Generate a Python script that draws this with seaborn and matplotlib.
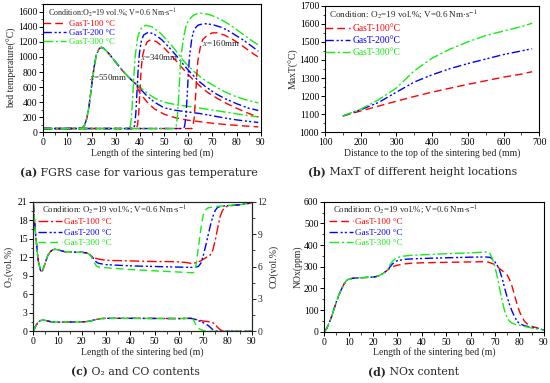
import matplotlib
matplotlib.use("Agg")
import matplotlib.pyplot as plt
import seaborn as sns
from matplotlib.ticker import MultipleLocator, AutoMinorLocator
from matplotlib.lines import Line2D

# ---------------- data ----------------
# (a) bed temperature along the strand at three depths, three gas temperatures
red550_x = [0, 10, 15, 16, 17, 18, 19, 20, 21, 22, 23, 24, 25, 27, 30, 33, 36, 38, 40, 43, 46, 50, 55, 60, 65, 70, 75, 80, 85, 89]
red550_y = [50, 50, 52, 60, 90, 180, 360, 620, 860, 1030, 1105, 1128, 1115, 1050, 930, 810, 710, 650, 520, 400, 310, 240, 190, 160, 140, 120, 105, 92, 80, 72]
blue550_x = red550_x
blue550_y = [50, 50, 52, 60, 90, 180, 360, 620, 860, 1030, 1105, 1128, 1115, 1050, 930, 810, 710, 650, 580, 480, 400, 325, 290, 270, 248, 220, 190, 165, 145, 130]
green550_x = red550_x
green550_y = [50, 50, 52, 60, 90, 180, 360, 620, 860, 1030, 1105, 1128, 1115, 1050, 930, 810, 710, 660, 600, 520, 455, 400, 365, 345, 320, 295, 270, 245, 220, 205]

red340_x = [0, 38.5, 39, 39.5, 40, 40.5, 41, 42, 43, 44.5, 47, 50, 53, 56, 59, 62, 65, 68, 72, 76, 80, 85, 89]
red340_y = [50, 50, 90, 250, 550, 820, 1000, 1130, 1200, 1230, 1200, 1120, 1020, 910, 800, 700, 610, 530, 450, 380, 320, 250, 205]
blue340_x = [0, 37.3, 37.8, 38.3, 38.8, 39.3, 39.8, 40.5, 41.5, 43.5, 46, 49, 52, 55, 58, 61, 64, 67, 71, 75, 80, 85, 89]
blue340_y = [50, 50, 90, 250, 550, 850, 1050, 1200, 1290, 1330, 1300, 1230, 1130, 1020, 900, 790, 690, 610, 520, 450, 380, 320, 290]
green340_x = [0, 35.5, 36, 36.5, 37, 37.5, 38, 39, 40, 41, 42.5, 45, 48, 51, 54, 57, 60, 63, 66, 70, 75, 80, 85, 89]
green340_y = [50, 50, 80, 200, 450, 750, 1000, 1250, 1350, 1400, 1420, 1400, 1330, 1230, 1120, 990, 880, 790, 710, 630, 540, 470, 420, 390]

red160_x = [0, 61.5, 62, 62.5, 63, 63.5, 64, 65, 66, 68, 70, 72, 75, 78, 81, 84, 87, 89]
red160_y = [50, 50, 80, 200, 450, 750, 950, 1130, 1230, 1290, 1320, 1320, 1290, 1240, 1180, 1110, 1040, 1000]
blue160_x = [0, 58, 58.5, 59, 59.5, 60, 60.5, 61.5, 62.5, 64, 66, 68, 71, 74, 77, 80, 83, 86, 89]
blue160_y = [50, 50, 80, 200, 450, 750, 1000, 1250, 1370, 1420, 1440, 1440, 1420, 1390, 1340, 1280, 1220, 1150, 1075]
green160_x = [0, 54.5, 55, 55.5, 56, 56.5, 57, 58, 59, 60, 62, 64, 66, 69, 72, 75, 78, 81, 84, 87, 89]
green160_y = [50, 50, 80, 200, 450, 750, 1000, 1250, 1400, 1480, 1550, 1578, 1580, 1560, 1520, 1470, 1410, 1340, 1270, 1200, 1160]

# (b) maximum temperature vs depth
depth_mm = [150, 200, 250, 300, 350, 400, 450, 500, 550, 600, 650, 680]
maxT_100 = [1090, 1118, 1145, 1172, 1198, 1222, 1244, 1265, 1285, 1305, 1322, 1335]
maxT_200 = [1090, 1125, 1165, 1222, 1278, 1318, 1352, 1380, 1405, 1430, 1450, 1462]
maxT_300 = [1090, 1128, 1180, 1245, 1340, 1410, 1460, 1500, 1535, 1560, 1585, 1603]

# (c) O2 (left axis) and CO (right axis)
o2_red_x = [0, 0.5, 1, 2, 3, 3.5, 4, 5, 6, 7, 8, 9, 11, 13, 15, 18, 20, 22, 23, 24, 25, 27, 30, 35, 40, 45, 50, 55, 60, 63, 65, 67, 69, 71, 72, 73, 74, 75, 76, 77, 78, 79, 80, 85, 90]
o2_red_y = [20.8, 18, 15.5, 11.5, 9.8, 9.7, 10, 11.2, 12.3, 12.9, 13.2, 13.3, 13.1, 12.9, 12.9, 12.8, 12.8, 12.7, 12.5, 12.2, 11.9, 11.7, 11.5, 11.45, 11.4, 11.35, 11.3, 11.3, 11.25, 11.15, 11.0, 11.1, 11.4, 11.9, 12.1, 12.4, 13.2, 14.8, 16.8, 18.6, 19.6, 20.1, 20.3, 20.5, 20.8]
o2_blue_x = [0, 0.5, 1, 2, 3, 3.5, 4, 5, 6, 7, 8, 9, 11, 13, 15, 18, 20, 22, 23, 24, 25, 26, 27, 30, 40, 50, 60, 66, 68, 69, 70, 71, 72, 73, 74, 75, 76, 78, 85, 90]
o2_blue_y = [20.8, 18, 15.5, 11.5, 9.8, 9.7, 10, 11.2, 12.3, 12.9, 13.2, 13.3, 13.1, 12.9, 12.9, 12.8, 12.8, 12.7, 12.5, 12.2, 11.7, 11.2, 11.0, 10.8, 10.6, 10.5, 10.4, 10.35, 10.5, 11.0, 12.2, 13.8, 15.5, 17.2, 18.6, 19.6, 20.1, 20.3, 20.5, 20.8]
o2_green_x = [0, 0.5, 1, 2, 3, 3.5, 4, 5, 6, 7, 8, 9, 11, 13, 15, 18, 20, 22, 23, 24, 25, 26, 27, 30, 40, 50, 60, 65, 66, 67, 68, 69, 70, 71, 72, 75, 80, 85, 90]
o2_green_y = [20.8, 18, 15.5, 11.5, 9.8, 9.7, 10, 11.2, 12.3, 12.9, 13.2, 13.3, 13.1, 12.9, 12.9, 12.8, 12.8, 12.7, 12.5, 12.0, 11.2, 10.6, 10.4, 10.3, 10.0, 9.8, 9.6, 9.5, 9.5, 10.5, 13.5, 16.5, 18.8, 19.7, 20.0, 20.2, 20.4, 20.5, 20.8]

co_red_x = [0, 1, 2, 3, 4, 5, 7, 9, 12, 15, 18, 20, 22, 24, 26, 28, 30, 40, 50, 60, 65, 66, 68, 70, 72, 74, 75, 76, 77, 78, 80, 90]
co_red_y = [0, 0.5, 0.85, 1.0, 1.05, 1.0, 0.9, 0.85, 0.85, 0.86, 0.86, 0.87, 0.9, 0.98, 1.1, 1.18, 1.2, 1.2, 1.19, 1.18, 1.2, 1.15, 1.05, 0.95, 0.9, 0.8, 0.6, 0.35, 0.15, 0.05, 0.0, 0.0]
co_blue_x = [0, 1, 2, 3, 4, 5, 7, 9, 12, 15, 18, 20, 22, 24, 26, 28, 30, 40, 50, 60, 65, 66, 68, 70, 72, 73, 74, 75, 76, 90]
co_blue_y = [0, 0.5, 0.85, 1.0, 1.05, 1.0, 0.9, 0.85, 0.85, 0.86, 0.86, 0.87, 0.9, 0.98, 1.1, 1.18, 1.2, 1.2, 1.19, 1.18, 1.2, 1.15, 1.0, 0.8, 0.55, 0.35, 0.15, 0.05, 0.0, 0.0]
co_green_x = [0, 1, 2, 3, 4, 5, 7, 9, 12, 15, 18, 20, 22, 24, 26, 28, 30, 40, 50, 60, 65, 66, 67, 68, 69, 70, 72, 74, 90]
co_green_y = [0, 0.5, 0.85, 1.0, 1.05, 1.0, 0.9, 0.85, 0.85, 0.86, 0.86, 0.87, 0.9, 0.98, 1.1, 1.18, 1.2, 1.2, 1.19, 1.18, 1.2, 1.05, 0.6, 0.3, 0.15, 0.08, 0.02, 0.0, 0.0]

# (d) NOx
nox_red_x = [0, 1, 2, 3, 4, 5, 6, 7, 8, 9, 10, 12, 15, 18, 20, 22, 23, 24, 25, 26, 27, 28, 30, 33, 36, 40, 45, 50, 55, 60, 65, 67, 68, 70, 71, 72, 73, 74, 75, 76, 77, 78, 79, 80, 81, 82, 83, 84, 85, 86, 88, 90]
nox_red_y = [0, 15, 40, 70, 105, 140, 170, 195, 218, 235, 243, 247, 249, 251, 252, 256, 262, 268, 276, 285, 293, 300, 307, 313, 316, 318, 319, 320, 321, 322, 323, 322, 318, 310, 300, 290, 282, 272, 262, 240, 210, 170, 130, 95, 70, 50, 38, 30, 25, 22, 15, 8]
nox_blue_x = [0, 1, 2, 3, 4, 5, 6, 7, 8, 9, 10, 12, 15, 18, 20, 22, 23, 24, 25, 26, 27, 28, 29, 30, 33, 36, 40, 50, 60, 66, 68, 69, 70, 71, 72, 73, 74, 75, 76, 77, 78, 79, 80, 82, 85, 88, 90]
nox_blue_y = [0, 15, 40, 70, 105, 140, 170, 195, 218, 235, 243, 247, 249, 251, 252, 256, 262, 268, 276, 285, 300, 313, 322, 328, 334, 336, 338, 341, 344, 345, 343, 335, 322, 305, 280, 245, 200, 160, 125, 95, 70, 50, 38, 28, 20, 14, 8]
nox_green_x = [0, 1, 2, 3, 4, 5, 6, 7, 8, 9, 10, 12, 15, 18, 20, 22, 23, 24, 25, 26, 27, 28, 29, 30, 32, 35, 40, 45, 50, 55, 60, 65, 67, 68, 69, 70, 71, 72, 73, 74, 75, 76, 77, 78, 80, 83, 86, 90]
nox_green_y = [0, 15, 40, 70, 105, 140, 170, 195, 218, 235, 243, 247, 249, 251, 252, 256, 262, 268, 276, 285, 310, 325, 335, 342, 348, 352, 355, 357, 360, 362, 364, 367, 368, 360, 335, 300, 250, 195, 140, 95, 65, 48, 40, 35, 30, 22, 15, 8]

gas_labels = ["GasT-100 \u00b0C", "GasT-200 \u00b0C", "GasT-300 \u00b0C"]
gas_labels_b = ["GasT-100\u00b0C", "GasT-200\u00b0C", "GasT-300\u00b0C"]

# ---------------- styling ----------------
sns.set_theme(style="ticks")
plt.rcParams["font.family"] = ["Liberation Serif", "DejaVu Serif"]
plt.rcParams["mathtext.fontset"] = "stix"
plt.rcParams["axes.linewidth"] = 0.8

RED, BLUE, GREEN = "#ff0000", "#0000ff", "#11ee11"
DASH = (0, (5.5, 3))
DASHDOT = (0, (7, 2, 1.5, 2))
DASHDOTDOT = (0, (6, 2, 1.5, 1.5, 1.5, 2))
LW = 1.0
TICK_FS = 6.9
LABEL_FS = 7.0

W, H = 550, 383
fig = plt.figure(figsize=(W / 100, H / 100), dpi=100)


def add_axes_px(l, t, r, b):
    return fig.add_axes([l / W, 1 - b / H, (r - l) / W, (b - t) / H])


def style_axes(ax, xmaj, ymaj):
    ax.xaxis.set_major_locator(MultipleLocator(xmaj))
    ax.yaxis.set_major_locator(MultipleLocator(ymaj))
    ax.xaxis.set_minor_locator(AutoMinorLocator(2))
    ax.yaxis.set_minor_locator(AutoMinorLocator(2))
    ax.tick_params(which="major", direction="out", length=3, width=0.7, labelsize=TICK_FS, pad=1.2,
                   top=False, right=False, colors="black")
    ax.tick_params(which="minor", direction="out", length=1.8, width=0.6, top=False, right=False)
    for s in ax.spines.values():
        s.set_visible(True)
        s.set_color("black")
        s.set_linewidth(0.8)


def draw(ax, x, y, color, ls):
    sns.lineplot(x=x, y=y, ax=ax, color=color, linestyle=ls, linewidth=LW,
                 estimator=None, sort=False, legend=False)


def add_legend(ax, cond, labels, styles, colors, x0, y0, y_leg, fs_cond, fs, spacing):
    ax.text(x0, y0, cond, transform=ax.transAxes, fontsize=fs_cond, va="center", ha="left")
    handles = [Line2D([], [], color=c, linestyle=s, linewidth=LW) for c, s in zip(colors, styles)]
    leg = ax.legend(handles, labels, loc="upper left", bbox_to_anchor=(x0 - 0.02, y_leg),
                    frameon=False, fontsize=fs, handlelength=2.6, handletextpad=0.3,
                    labelspacing=spacing, borderpad=0, borderaxespad=0)
    for t, c in zip(leg.get_texts(), colors):
        t.set_color(c)


def caption(x_px, y_px, tag, rest):
    t = fig.text(x_px / W, 1 - y_px / H, tag, fontsize=7.8, fontweight="bold",
                 family="DejaVu Serif", va="center", ha="left")
    fig.canvas.draw()
    plt.annotate(" " + rest, xy=(1, 0.5), xycoords=t, va="center", ha="left",
                 fontsize=7.8, family="DejaVu Serif", annotation_clip=False)


# ---------------- (a) ----------------
ax_a = add_axes_px(43.3, 4.2, 260.7, 132.3)
for xs, ys, c, s in [
    (red550_x, red550_y, RED, DASH), (blue550_x, blue550_y, BLUE, DASHDOTDOT), (green550_x, green550_y, GREEN, DASHDOT),
    (red340_x, red340_y, RED, DASH), (blue340_x, blue340_y, BLUE, DASHDOTDOT), (green340_x, green340_y, GREEN, DASHDOT),
    (red160_x, red160_y, RED, DASH), (blue160_x, blue160_y, BLUE, DASHDOTDOT), (green160_x, green160_y, GREEN, DASHDOT),
]:
    draw(ax_a, xs, ys, c, s)
ax_a.set_xlim(0, 90)
ax_a.set_ylim(0, 1700)
style_axes(ax_a, 10, 200)
ax_a.set_xlabel("Length of the sintering bed (m)", fontsize=LABEL_FS, labelpad=0.3)
ax_a.set_ylabel("bed temperature(\u00b0C)", fontsize=LABEL_FS, labelpad=1)
ax_a.text(27, 740, r"$x$=550mm", fontsize=6.4, ha="center", va="center")
ax_a.text(48, 995, r"$x$=340mm", fontsize=6.4, ha="center", va="center")
ax_a.text(73.5, 1180, r"$x$=160mm", fontsize=6.4, ha="center", va="center")
add_legend(ax_a, r"Condition:O$_2$=19 vol.%; V=0.6 Nm$\cdot$s$^{-1}$", gas_labels,
           [DASH, DASHDOTDOT, DASHDOT], [RED, BLUE, GREEN], 0.02, 0.935, 0.878, 5.8, 6.3, 0.12)

# ---------------- (b) ----------------
ax_b = add_axes_px(325, 5.7, 539.3, 132.3)
draw(ax_b, depth_mm, maxT_100, RED, DASH)
draw(ax_b, depth_mm, maxT_200, BLUE, DASHDOTDOT)
draw(ax_b, depth_mm, maxT_300, GREEN, DASHDOT)
ax_b.set_xlim(100, 700)
ax_b.set_ylim(1000, 1700)
style_axes(ax_b, 100, 100)
ax_b.set_xlabel("Distance to the top of the sintering bed (mm)", fontsize=LABEL_FS, labelpad=0.3)
ax_b.set_ylabel("MaxT(\u00b0C)", fontsize=LABEL_FS, labelpad=1)
add_legend(ax_b, r"Condition: O$_2$=19 vol.%; V=0.6 Nm$\cdot$s$^{-1}$", gas_labels_b,
           [DASH, DASHDOTDOT, DASHDOT], [RED, BLUE, GREEN], 0.02, 0.93, 0.855, 6.6, 6.9, 0.32)

# ---------------- (c) ----------------
ax_c = add_axes_px(33.3, 201.7, 251.7, 331.3)
draw(ax_c, o2_red_x, o2_red_y, RED, DASHDOT)
draw(ax_c, o2_blue_x, o2_blue_y, BLUE, DASHDOTDOT)
draw(ax_c, o2_green_x, o2_green_y, GREEN, DASH)
ax_c.set_xlim(0, 90)
ax_c.set_ylim(0, 21)
style_axes(ax_c, 10, 3)
ax_c.set_xlabel("Length of the sintering bed (m)", fontsize=LABEL_FS, labelpad=0.3)
ax_c.set_ylabel(r"O$_2$(vol.%)", fontsize=LABEL_FS, labelpad=1)
ax_c2 = ax_c.twinx()
draw(ax_c2, co_red_x, co_red_y, RED, DASHDOT)
draw(ax_c2, co_blue_x, co_blue_y, BLUE, DASHDOTDOT)
draw(ax_c2, co_green_x, co_green_y, GREEN, DASH)
ax_c2.set_ylim(0, 12)
ax_c2.yaxis.set_major_locator(MultipleLocator(3))
ax_c2.yaxis.set_minor_locator(AutoMinorLocator(2))
ax_c2.tick_params(which="major", direction="out", length=3, width=0.7, labelsize=TICK_FS, pad=1.2,
                  right=True, left=False)
ax_c2.tick_params(which="minor", direction="out", length=1.8, width=0.6, right=True, left=False)
ax_c2.set_ylabel("CO(vol.%)", fontsize=LABEL_FS, labelpad=1)
add_legend(ax_c, r"Condition: O$_2$=19 vol.%; V=0.6 Nm$\cdot$s$^{-1}$", gas_labels,
           [DASHDOT, DASHDOTDOT, DASH], [RED, BLUE, GREEN], 0.04, 0.935, 0.875, 6.4, 6.6, 0.22)

# ---------------- (d) ----------------
ax_d = add_axes_px(324.3, 201.7, 543.7, 331.7)
draw(ax_d, nox_red_x, nox_red_y, RED, DASH)
draw(ax_d, nox_blue_x, nox_blue_y, BLUE, DASHDOTDOT)
draw(ax_d, nox_green_x, nox_green_y, GREEN, DASHDOT)
ax_d.set_xlim(0, 90)
ax_d.set_ylim(0, 600)
style_axes(ax_d, 10, 100)
ax_d.set_xlabel("Length of the sintering bed (m)", fontsize=LABEL_FS, labelpad=0.3)
ax_d.set_ylabel("NOx(ppm)", fontsize=LABEL_FS, labelpad=1)
add_legend(ax_d, r"Condition: O$_2$=19 vol.%; V=0.6 Nm$\cdot$s$^{-1}$", gas_labels,
           [DASH, DASHDOTDOT, DASHDOT], [RED, BLUE, GREEN], 0.04, 0.935, 0.875, 6.4, 6.6, 0.22)

# ---------------- captions ----------------
caption(20, 173, "(a)", "FGRS case for various gas temperature")
caption(308, 172, "(b)", "MaxT of different height locations")
caption(71, 372, "(c)", "O\u2082 and CO contents")
caption(368, 372, "(d)", "NOx content")

fig.savefig("out.png", dpi=100)
